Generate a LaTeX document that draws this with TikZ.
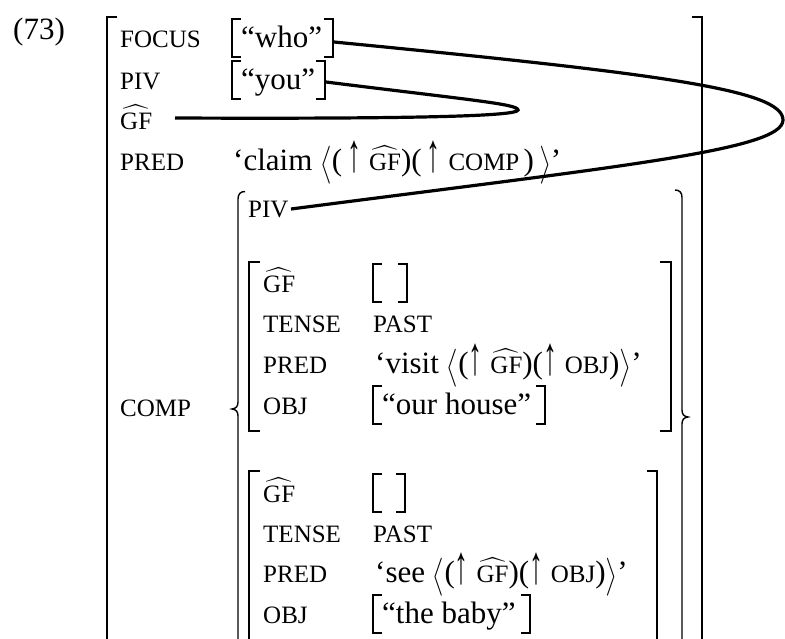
\documentclass[tikz,border=0pt]{standalone}
\usepackage{fontspec}
\usepackage{amsmath}
\usepackage{graphicx}
\setmainfont{Liberation Serif}
\newcommand\labf{\fontsize{25}{30}\selectfont}
\newcommand\valf{\fontsize{31}{37}\selectfont}
\newcommand\hatgf{$\widehat{\text{GF}}$}
\newcommand\lang{\raisebox{-3pt}{\scalebox{1}[1.27]{$\bigl\langle$}}}
\newcommand\rang{\raisebox{-3pt}{\scalebox{1}[1.27]{$\bigr\rangle$}}}
\newcommand\upar{\raisebox{-1pt}{\scalebox{0.9}[1.75]{↑}}}
\tikzset{
  lab/.style={anchor=base west,inner sep=0pt,font=\labf},
  val/.style={anchor=base west,inner sep=0pt,font=\valf},
  bigbr/.style={line width=1.4pt},
  smbr/.style={line width=1.7pt},
  link/.style={line width=3.2pt}
}
\newcommand\sqbox[3]{%
  \draw[smbr] ({#1+9},{#3-28}) -- (#1,{#3-28}) -- (#1,{#3+10}) -- ({#1+9},{#3+10});
  \draw[smbr] ({#2-9},{#3-28}) -- (#2,{#3-28}) -- (#2,{#3+10}) -- ({#2-9},{#3+10});}
\begin{document}
\begin{tikzpicture}[x=1pt,y=-1pt]
\useasboundingbox (0,0) rectangle (785,638);
\clip (0,0) rectangle (785,638);
% example number
\node[val] (n73) at (13,39) {(73)};
% outer f-structure brackets
\draw[bigbr] (117,17) -- (107,17) -- (107,660);
\draw[bigbr] (692,17) -- (702,17) -- (702,660);
% outer labels
\node[lab] (lfocus) at (120,47) {FOCUS};
\node[lab] (lpiv) at (120,89) {PIV};
\node[lab] (lgf) at (120,129) {\hatgf};
\node[lab] (lpred) at (120,170) {PRED};
\node[lab] (lcomp) at (120,416) {COMP};
% outer values
\sqbox{232}{333}{47}
\node[val] (vwho) at (241,47) {“who”};
\sqbox{232}{325}{89}
\node[val] (vyou) at (241,89) {“you”};
\node[val] (vclaim) at (233,170) {‘claim \lang(\,\upar\ {\labf\hatgf})(\,\upar\ {\labf COMP\,})\,\rang’};
% set brace
\draw[bigbr] (245,191.5) .. controls (240.5,191.5) and (238,194) .. (238,199) -- (238,402)
  .. controls (238,406.5) and (236,408.5) .. (232,409) .. controls (236,409.5) and (238,411.5) .. (238,416) -- (238,660);
\draw[bigbr] (675,190) .. controls (679.5,190) and (682,192.5) .. (682,197.5) -- (682,410)
  .. controls (682,414.5) and (684,416.5) .. (688,417) .. controls (684,417.5) and (682,419.5) .. (682,424) -- (682,660);
\node[lab] (cpiv) at (248,217) {PIV};
% first member (visit)
\draw[bigbr] (260,262) -- (249,262) -- (249,431) -- (260,431);
\draw[bigbr] (660,262) -- (671,262) -- (671,431) -- (660,431);
\node[lab] (agf) at (263,292) {\hatgf};
\node[lab] (atense) at (263,332) {TENSE};
\node[lab] (apred) at (263,373) {PRED};
\node[lab] (aobj) at (263,414) {OBJ};
\sqbox{373}{407}{292}
\node[lab] (apast) at (373,332) {PAST};
\node[val] (avisit) at (375,373) {‘visit \lang(\upar\ {\labf\hatgf})(\upar\ {\labf OBJ})\rang’};
\sqbox{373}{545}{414}
\node[val] (ahouse) at (382,414) {“our house”};
% second member (see)
\draw[bigbr] (260,471) -- (249,471) -- (249,660);
\draw[bigbr] (647,471) -- (657,471) -- (657,660);
\node[lab] (bgf) at (263,502) {\hatgf};
\node[lab] (btense) at (263,542) {TENSE};
\node[lab] (bpred) at (263,582) {PRED};
\node[lab] (bobj) at (263,623) {OBJ};
\sqbox{373}{405}{502}
\node[lab] (bpast) at (373,542) {PAST};
\node[val] (bsee) at (375,582) {‘see \lang(\upar\ {\labf\hatgf})(\upar\ {\labf OBJ})\rang’};
\sqbox{373}{530}{623}
\node[val] (bbaby) at (382,623) {“the baby”};
% connector end points
\coordinate (whoR) at (334,42);
\coordinate (youR) at (326,82);
\coordinate (gfR) at (175,118);
\coordinate (pivR) at (291,209);
% connectors
\draw[link] (whoR) .. controls (663,74) and (783,90) .. (783,120)
  .. controls (783,150) and (622,166) .. (pivR);
\draw[link] (youR) .. controls (470,100) and (518,104) .. (518,110)
  .. controls (518,116) and (420,119) .. (gfR);
\end{tikzpicture}
\end{document}
